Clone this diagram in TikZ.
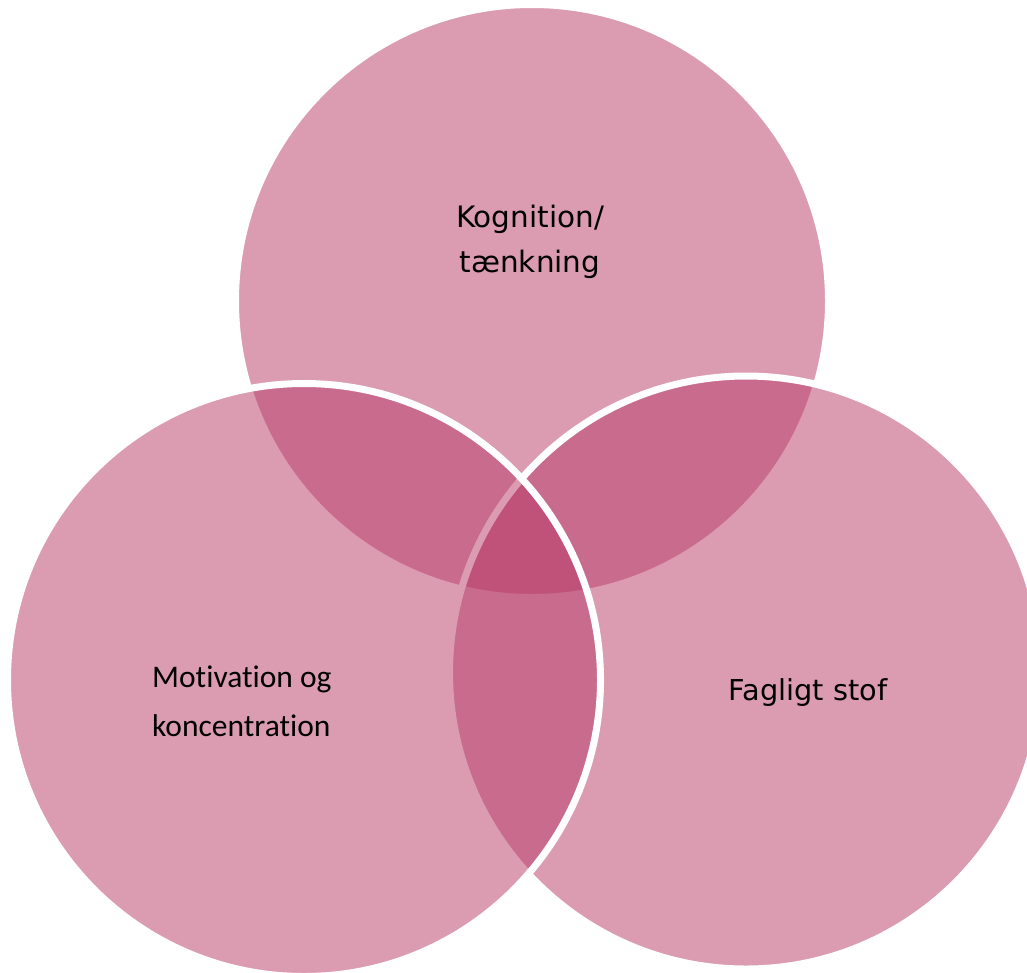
\documentclass[tikz,border=0pt]{standalone}
\usepackage{fontspec}
\setmainfont{DejaVu Sans}
\newfontfamily\calfont[Ligatures={NoCommon}]{Carlito}
\definecolor{vennbase}{RGB}{185,59,103}
\tikzset{
  venn/.style={fill=vennbase, fill opacity=0.5, draw=white, draw opacity=1, line width=7pt},
  lbl/.style={inner sep=0pt, text=black, text opacity=1},
}
\begin{document}
\begin{tikzpicture}[x=1pt,y=-1pt]
\useasboundingbox (0,0) rectangle (1027,972);
\fill[white] (0,0) rectangle (1027,972);
\clip (0,0) rectangle (1027,972);
\path[venn] (532,301) circle[radius=296.5];
\path[venn] (746,672.5) circle[radius=296.5];
\path[venn] (304,680) circle[radius=296.5];
\node[lbl, align=center, font=\fontsize{29.5}{45}\selectfont] (top) at (530,242) {Kognition/\\tænkning};
\node[lbl, font=\fontsize{28.8}{45}\selectfont] (right) at (808,692.5) {Fagligt stof};
\node[lbl, align=left, anchor=west, font=\calfont\fontsize{31.5}{49}\selectfont] (left) at (152,701) {Motivation og\\koncentration};
\end{tikzpicture}
\end{document}
